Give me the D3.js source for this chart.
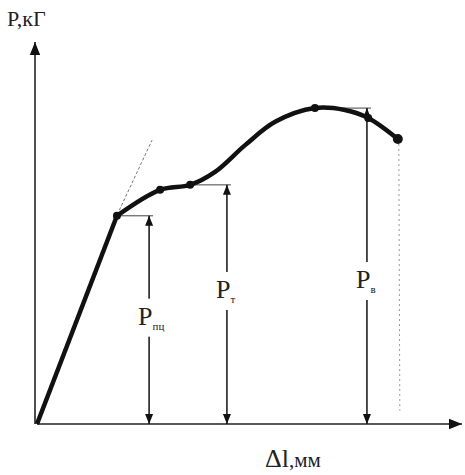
<!DOCTYPE html>
<html>
<head>
<meta charset="utf-8">
<script src="https://cdn.jsdelivr.net/npm/d3@7"></script>
<style>
  body { margin: 0; background: #fff; }
  svg { display: block; }
</style>
</head>
<body>
<svg></svg>
<script>
const width = 465;
const height = 475;

// elongation (arbitrary units) and load along the curve
const elong = [0, 18.9, 29.1, 36.2, 42.1, 49.2, 56.3, 65.7, 72.8, 78.3, 85.3];
const load  = [0, 54.5, 61.3, 62.6, 66.0, 73.0, 79.1, 82.7, 82.2, 80.1, 74.6];
const markIdx = [1, 2, 3, 7, 9, 10];

// characteristic loads: label, subscript, index of curve point, x of arrow
const limitMain = ["P", "P", "P"];
const limitSub  = ["пц", "т", "в"];
const limitIdx  = [1, 3, 7];
const limitX    = [26.5, 44.9, 78.0];
const labelY    = [26, 33, 35.6];

const svg = d3.select("svg")
    .attr("width", width)
    .attr("height", height);

const x = d3.scaleLinear().domain([0, 100]).range([37, 460]);
const y = d3.scaleLinear().domain([0, 100]).range([424, 42]);

const defs = svg.append("defs");
defs.append("marker")
    .attr("id", "head")
    .attr("viewBox", "0 0 10 10")
    .attr("refX", 10).attr("refY", 5)
    .attr("markerWidth", 10).attr("markerHeight", 10)
    .attr("markerUnits", "userSpaceOnUse")
    .attr("orient", "auto-start-reverse")
    .append("path")
    .attr("d", "M0,1 L10,5 L0,9 Z")
    .attr("fill", "#111");
defs.append("marker")
    .attr("id", "big")
    .attr("viewBox", "0 0 10 10")
    .attr("refX", 10).attr("refY", 5)
    .attr("markerWidth", 13).attr("markerHeight", 13)
    .attr("markerUnits", "userSpaceOnUse")
    .attr("orient", "auto")
    .append("path")
    .attr("d", "M0,1 L10,5 L0,9 Z")
    .attr("fill", "#111");

// axes
svg.append("line")
    .attr("x1", x(0)).attr("y1", y(0))
    .attr("x2", x(100) + 2).attr("y2", y(0))
    .attr("stroke", "#222").attr("stroke-width", 1.6)
    .attr("marker-end", "url(#big)");
svg.append("line")
    .attr("x1", x(0) - 2).attr("y1", y(0))
    .attr("x2", x(0) - 2).attr("y2", y(100))
    .attr("stroke", "#222").attr("stroke-width", 1.6)
    .attr("marker-end", "url(#big)");

svg.append("text")
    .attr("x", 7).attr("y", 26)
    .attr("font-family", "Liberation Serif")
    .attr("font-size", 22)
    .attr("fill", "#222")
    .text("P,кГ");

const xl = svg.append("text")
    .attr("x", 265).attr("y", 467)
    .attr("font-family", "Liberation Serif")
    .attr("fill", "#222");
xl.append("tspan").attr("font-size", 26).text("Δl");
xl.append("tspan").attr("font-size", 21).text(",мм");

// tangent of the elastic part
svg.append("line")
    .attr("x1", x(elong[1]) - 4).attr("y1", y(load[1]) + 8)
    .attr("x2", x(27.2)).attr("y2", y(74.3))
    .attr("stroke", "#777").attr("stroke-width", 1)
    .attr("stroke-dasharray", "3,2");

// dotted drop from the rupture point
const last = elong.length - 1;
svg.append("line")
    .attr("x1", x(elong[last]) + 1).attr("y1", y(load[last]))
    .attr("x2", x(elong[last]) + 2).attr("y2", y(3.5))
    .attr("stroke", "#999").attr("stroke-width", 1)
    .attr("stroke-dasharray", "2,3");

// limit annotations
limitIdx.forEach((k, i) => {
    const px = x(limitX[i]);
    const py = y(load[k]);
    svg.append("line")
        .attr("x1", x(elong[k])).attr("y1", py)
        .attr("x2", px + 4).attr("y2", py)
        .attr("stroke", "#444").attr("stroke-width", 1);
    svg.append("line")
        .attr("x1", px).attr("y1", y(0))
        .attr("x2", px).attr("y2", py)
        .attr("stroke", "#111").attr("stroke-width", 1.5)
        .attr("marker-start", "url(#head)")
        .attr("marker-end", "url(#head)");
    const ty = y(labelY[i]);
    svg.append("rect")
        .attr("x", px - 13).attr("y", ty - 26)
        .attr("width", 38).attr("height", 38)
        .attr("fill", "#fff");
    const t = svg.append("text")
        .attr("x", px - 11).attr("y", ty)
        .attr("font-family", "Liberation Serif")
        .attr("fill", "#222");
    t.append("tspan").attr("font-size", 26).text(limitMain[i]);
    t.append("tspan").attr("font-size", 11).attr("dy", 5).text(limitSub[i]);
});

// curve: straight elastic part, then smooth
const pts = elong.map((d, i) => [x(d), y(load[i])]);
svg.append("path")
    .attr("d", d3.line()(pts.slice(0, 2)))
    .attr("fill", "none")
    .attr("stroke", "#111").attr("stroke-width", 4.5);
svg.append("path")
    .attr("d", d3.line().curve(d3.curveCatmullRom)(pts.slice(1)))
    .attr("fill", "none")
    .attr("stroke", "#111").attr("stroke-width", 4.5)
    .attr("stroke-linecap", "round");

svg.selectAll("circle.mark")
    .data(markIdx)
    .enter()
    .append("circle")
    .attr("class", "mark")
    .attr("cx", d => x(elong[d]))
    .attr("cy", d => y(load[d]))
    .attr("r", d => d === last ? 5 : 4)
    .attr("fill", "#111");
</script>
</body>
</html>
